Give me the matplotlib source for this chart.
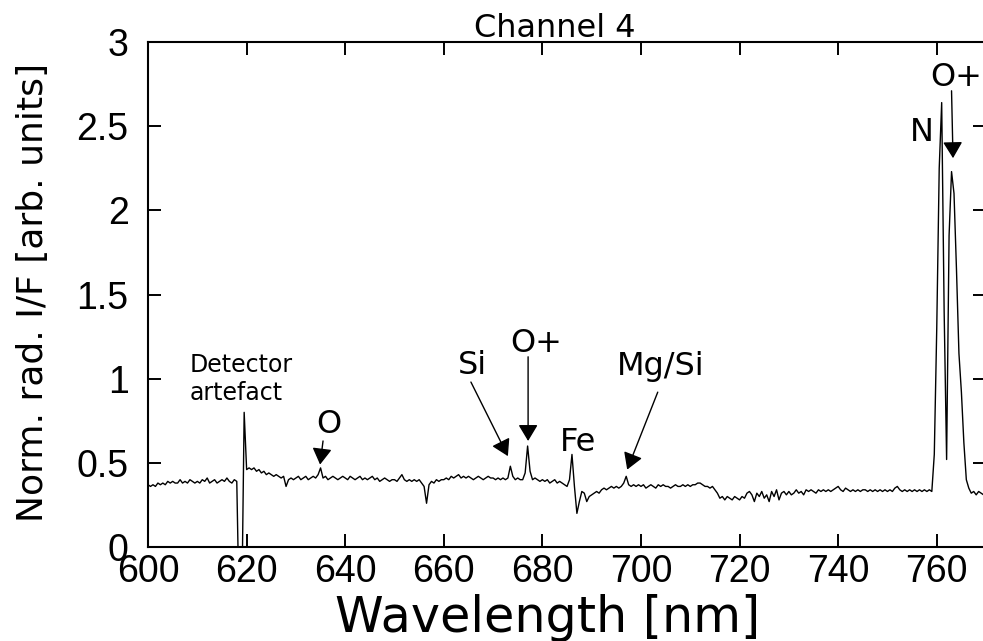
import numpy as np
import matplotlib.pyplot as plt

plt.rcParams['font.family'] = 'Liberation Sans'

# spectrum samples, 0.5 nm steps from 600 to 770 nm
wl = np.arange(600.0, 770.01, 0.5)
rad = [
    # 600
    0.37, 0.36, 0.37, 0.36, 0.38, 0.37, 0.38, 0.37, 0.39, 0.38,
    0.39, 0.38, 0.38, 0.40, 0.38, 0.39, 0.38, 0.40, 0.39, 0.38,
    # 610
    0.39, 0.38, 0.40, 0.39, 0.41, 0.38, 0.39, 0.40, 0.38, 0.39,
    0.40, 0.39, 0.41, 0.39, 0.38, 0.40, 0.39, -0.40, -0.40, 0.80,
    # 620
    0.46, 0.47, 0.46, 0.47, 0.45, 0.46, 0.44, 0.45, 0.43, 0.44,
    0.43, 0.42, 0.43, 0.42, 0.41, 0.42, 0.36, 0.40, 0.41, 0.40,
    # 630
    0.41, 0.42, 0.40, 0.41, 0.42, 0.40, 0.41, 0.42, 0.41, 0.43,
    0.47, 0.41, 0.42, 0.40, 0.41, 0.42, 0.41, 0.40, 0.41, 0.42,
    # 640
    0.41, 0.40, 0.42, 0.41, 0.40, 0.41, 0.42, 0.40, 0.41, 0.40,
    0.41, 0.42, 0.40, 0.41, 0.39, 0.40, 0.41, 0.40, 0.39, 0.40,
    # 650
    0.40, 0.39, 0.41, 0.43, 0.40, 0.39, 0.40, 0.39, 0.40, 0.39,
    0.40, 0.38, 0.36, 0.26, 0.37, 0.39, 0.38, 0.40, 0.39, 0.40,
    # 660
    0.40, 0.41, 0.40, 0.42, 0.41, 0.42, 0.43, 0.41, 0.42, 0.41,
    0.42, 0.41, 0.40, 0.41, 0.42, 0.41, 0.40, 0.41, 0.42, 0.41,
    # 670
    0.41, 0.40, 0.41, 0.40, 0.41, 0.40, 0.41, 0.48, 0.42, 0.40,
    0.41, 0.40, 0.40, 0.44, 0.60, 0.45, 0.40, 0.41, 0.40, 0.39,
    # 680
    0.40, 0.39, 0.40, 0.38, 0.39, 0.40, 0.38, 0.39, 0.38, 0.37,
    0.36, 0.40, 0.55, 0.36, 0.20, 0.27, 0.33, 0.32, 0.27, 0.30,
    # 690
    0.31, 0.32, 0.33, 0.32, 0.34, 0.35, 0.34, 0.35, 0.36, 0.35,
    0.36, 0.35, 0.36, 0.38, 0.42, 0.37, 0.36, 0.37, 0.36, 0.37,
    # 700
    0.36, 0.37, 0.35, 0.36, 0.37, 0.36, 0.35, 0.37, 0.36, 0.37,
    0.36, 0.36, 0.35, 0.36, 0.37, 0.36, 0.36, 0.37, 0.36, 0.37,
    # 710
    0.36, 0.37, 0.37, 0.38, 0.38, 0.37, 0.36, 0.36, 0.35, 0.36,
    0.34, 0.32, 0.29, 0.30, 0.28, 0.30, 0.29, 0.28, 0.30, 0.29,
    # 720
    0.28, 0.30, 0.29, 0.32, 0.33, 0.31, 0.27, 0.32, 0.30, 0.33,
    0.29, 0.31, 0.27, 0.33, 0.30, 0.34, 0.28, 0.32, 0.33, 0.31,
    # 730
    0.33, 0.31, 0.32, 0.34, 0.32, 0.33, 0.31, 0.34, 0.33, 0.34,
    0.33, 0.32, 0.34, 0.33, 0.34, 0.33, 0.34, 0.33, 0.34, 0.35,
    # 740
    0.36, 0.34, 0.33, 0.35, 0.34, 0.33, 0.34, 0.33, 0.34, 0.33,
    0.34, 0.34, 0.33, 0.34, 0.33, 0.34, 0.33, 0.34, 0.33, 0.34,
    # 750
    0.33, 0.34, 0.33, 0.35, 0.36, 0.34, 0.33, 0.34, 0.33, 0.34,
    0.33, 0.34, 0.33, 0.34, 0.33, 0.34, 0.33, 0.34, 0.33, 0.55,
    # 760
    1.30, 2.25, 2.64, 1.40, 0.52, 1.85, 2.23, 2.10, 1.65, 1.15,
    0.92, 0.62, 0.40, 0.35, 0.32, 0.33, 0.31, 0.33, 0.32, 0.31,
    0.32,
]

xticks = [600, 620, 640, 660, 680, 700, 720, 740, 760]
yticks = [0, 0.5, 1, 1.5, 2, 2.5, 3]
ytick_labels = ['0', '0.5', '1', '1.5', '2', '2.5', '3']

# line labels: text, baseline position
labels = [('O', 636.7, 0.68), ('Si', 665.9, 1.025), ('O+', 678.7, 1.16),
          ('Fe', 687.2, 0.57), ('Mg/Si', 704.0, 1.02),
          ('N', 757.0, 2.41), ('O+', 763.9, 2.74)]
# arrows: tail, head
arrows = [((635.5, 0.63), (634.9, 0.49)),
          ((665.5, 0.98), (673.0, 0.54)),
          ((677.1, 1.13), (677.1, 0.63)),
          ((703.4, 0.92), (697.2, 0.46)),
          ((763.0, 2.71), (763.3, 2.31))]

fig = plt.figure(figsize=(9.83, 6.41), dpi=100)
ax = fig.add_axes([0.1506, 0.1466, 0.8525, 0.7879])

ax.plot(wl, rad, color='black', lw=1.0)
ax.set_xlim(600, 770)
ax.set_ylim(0, 3)

ax.set_xticks(xticks)
ax.set_yticks(yticks)
ax.set_yticklabels(ytick_labels)
ax.tick_params(direction='in', length=9.5, width=1.4, top=True, right=True,
               labelsize=27, colors='black')
ax.tick_params(axis='x', pad=5)
ax.tick_params(axis='y', pad=14)
for sp in ax.spines.values():
    sp.set_linewidth(1.5)

for txt, x, y in labels:
    ax.text(x, y, txt, fontsize=23, family='DejaVu Sans', ha='center', va='baseline')
ax.text(608.5, 1.04, 'Detector', fontsize=17, family='DejaVu Sans', va='baseline')
ax.text(608.5, 0.875, 'artefact', fontsize=17, family='DejaVu Sans', va='baseline')

for tail, head in arrows:
    ax.annotate('', xy=head, xytext=tail,
                arrowprops=dict(arrowstyle='-|>,head_length=0.4,head_width=0.24',
                                mutation_scale=25, color='black', lw=1.0,
                                shrinkA=0, shrinkB=0))

fig.text(555 / 983, 1 - 37 / 641, 'Channel 4', fontsize=23, family='DejaVu Sans',
         ha='center', va='baseline')
fig.text(548 / 983, 1 - 632 / 641, 'Wavelength [nm]', fontsize=35.5, family='DejaVu Sans',
         ha='center', va='baseline')
fig.text(33 / 983, 1 - 292 / 641, 'Norm. rad. I/F [arb. units]', fontsize=26,
         family='DejaVu Sans', rotation=90, ha='center', va='center')

fig.savefig('out.png', dpi=100)
